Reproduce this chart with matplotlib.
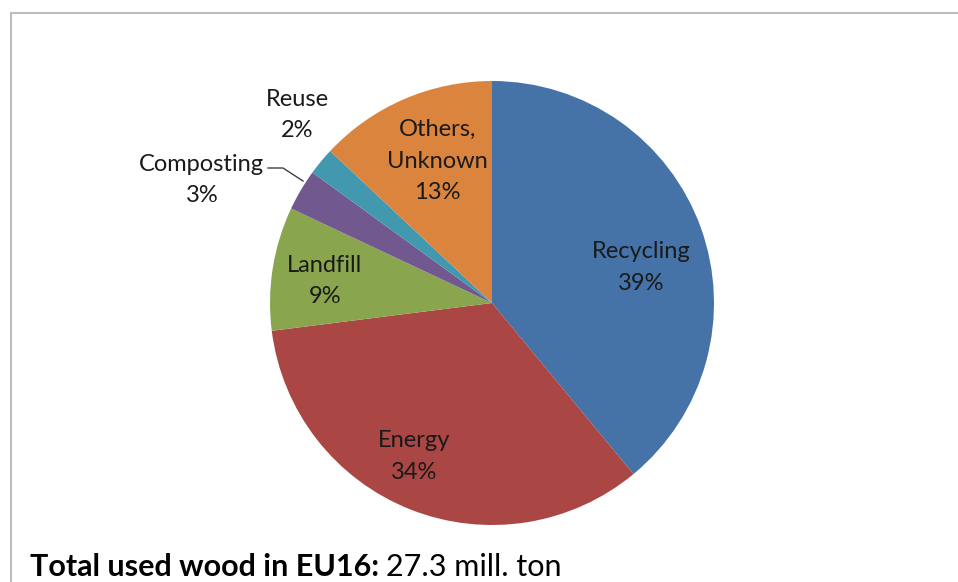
import numpy as np
import matplotlib.pyplot as plt
from matplotlib.lines import Line2D

plt.rcParams['font.family'] = ['Lato', 'DejaVu Sans']

# data
categories = ["Recycling", "Energy", "Landfill", "Composting", "Reuse", "Others,\nUnknown"]
shares = [39, 34, 9, 3, 2, 13]
colors = ["#4572A7", "#AA4643", "#89A54E", "#71588F", "#4198AF", "#DB843D"]

W, H = 958, 582
fig = plt.figure(figsize=(W / 100, H / 100), dpi=100)
ax = fig.add_axes([0, 0, 1, 1])

cx, cy, R = 492, H - 303, 222
wedges, _ = ax.pie(shares, colors=colors, startangle=90, counterclock=False,
                   center=(cx, cy), radius=R, frame=True,
                   wedgeprops=dict(linewidth=0, antialiased=True))
ax.set_xlim(0, W)
ax.set_ylim(0, H)
ax.set_aspect("equal")
ax.axis("off")

# label placement: (angle in degrees, distance as fraction of radius)
label_pos = [(13.5, 0.69), (-117, 0.775), (172.5, 0.76), (157, 1.42), (136, 1.22), (111, 0.685)]
for cat, val, (ang, dist) in zip(categories, shares, label_pos):
    a = np.deg2rad(ang)
    x = cx + dist * R * np.cos(a)
    y = cy + dist * R * np.sin(a)
    ax.text(x, y, f"{cat}\n{val}%", ha="center", va="center", fontsize=17,
            color="#1a1a1a", linespacing=1.62)

# leader line for Composting
ax.add_line(Line2D([268, 283, 303], [H - 168, H - 168, H - 181], color="#404040", lw=1))

# frame
fig.add_artist(Line2D([11 / W, 1], [1 - 13 / H, 1 - 13 / H], color="#BDBDBD", lw=1.5))
fig.add_artist(Line2D([11 / W, 11 / W], [1 - 13 / H, 0], color="#BDBDBD", lw=1.5))

t1 = fig.text(30 / W, 1 - 576 / H, "Total used wood in EU16:", fontsize=22, fontweight="bold",
              color="black", va="baseline")
fig.canvas.draw()
bb = t1.get_window_extent()
fig.text((bb.x1 + 7) / W, 1 - 576 / H, "27.3 mill. ton", fontsize=22, color="black", va="baseline")

fig.savefig("out.png", dpi=100)
